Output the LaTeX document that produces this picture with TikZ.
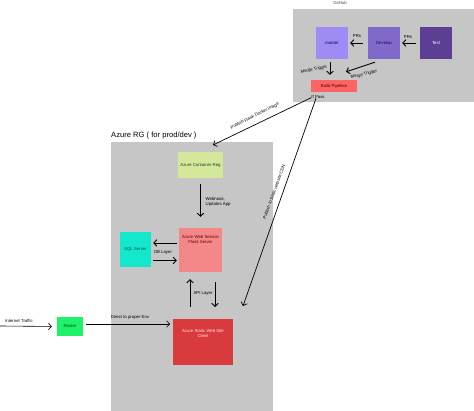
\documentclass[tikz,border=0pt]{standalone}
\usepackage{fontspec}
\setmainfont{Liberation Sans}
\usetikzlibrary{arrows.meta}
\definecolor{grp}{HTML}{C6C6C6}
\definecolor{cmaster}{HTML}{9F8BF3}
\definecolor{cdev}{HTML}{8169CC}
\definecolor{ctest}{HTML}{5A3F92}
\definecolor{cbuild}{HTML}{FF6464}
\definecolor{ccr}{HTML}{D3E899}
\definecolor{cweb}{HTML}{F48888}
\definecolor{csql}{HTML}{14E8CC}
\definecolor{cstat}{HTML}{D93A3E}
\definecolor{crouter}{HTML}{1EF26B}
\begin{document}
\begin{tikzpicture}[x=1pt,y=-1pt,
  box/.style={rectangle,inner sep=0pt,font=\fontsize{4.3}{5.2}\selectfont,align=center},
  lbl/.style={font=\fontsize{4.3}{5.2}\selectfont,inner sep=0.5pt,align=center},
  arr/.style={-{Straight Barb[length=3pt,width=6.5pt]},line width=0.9pt},
  tarr/.style={-{Straight Barb[length=3pt,width=6.5pt]},line width=0.6pt},
  ]
\useasboundingbox[fill=white] (0,0) rectangle (474,411);
% groups
\node[box,fill=grp,minimum width=181pt,minimum height=93pt] (gh) at (383.5,55.5) {};
\node[lbl,text=black!70] (ghl) at (340,3) {GitHub};
\node[box,fill=grp,minimum width=162pt,minimum height=269pt] (rg) at (192,276.5) {};
\node[font=\fontsize{7.6}{9}\selectfont,anchor=west,inner sep=0pt] (rgl) at (111,136) {Azure RG ( for prod/dev )};
% top boxes
\node[box,fill=cmaster,minimum width=32pt,minimum height=32pt,text=blue!30!black] (master) at (332,43) {master};
\node[box,fill=cdev,minimum width=32pt,minimum height=32pt,text=black!80!cdev] (dev) at (384,43) {Develop};
\node[box,fill=ctest,minimum width=32pt,minimum height=32pt,text=white] (test) at (436,43) {Test};
\node[box,fill=cbuild,minimum width=46pt,minimum height=12pt,text=red!30!black] (build) at (334,86) {Build Pipeline};
\node[lbl] (ifp) at (318,96.5) {If Pass};
% azure boxes
\node[box,fill=ccr,minimum width=45pt,minimum height=26pt,text=black!80] (cr) at (200.5,165) {Azure Container Reg};
\node[box,fill=cweb,minimum width=43pt,minimum height=44pt,
  label={[lbl,anchor=north,yshift=-7pt,text=red!40!black]north:Azure Web Service\\Flask Server}] (web) at (200.5,250) {};
\node[box,fill=csql,minimum width=31pt,minimum height=35pt,text=teal!60!black] (sql) at (135.5,249.5) {SQL Server};
\node[box,fill=cstat,minimum width=60pt,minimum height=46pt,
  label={[lbl,anchor=north,yshift=-10pt,text=white!90!red]north:Azure Static Web Site\\Client}] (stat) at (203,342) {};
\node[box,fill=crouter,minimum width=26pt,minimum height=19pt,text=green!30!black] (router) at (70,326.5) {Router};
% PR arrows
\draw[arr,shorten <=5pt,shorten >=2pt] (dev.west) -- (master.east);
\node[lbl] (prs1) at (357,36) {PRs};
\draw[arr,shorten <=4pt,shorten >=2pt] (test.west) -- (dev.east);
\node[lbl] (prs2) at (408,37) {PRs};
% merge triggers
\draw[arr,shorten <=3pt,shorten >=5pt] ([xshift=-2pt]master.south) -- ([xshift=-4pt]build.north);
\node[lbl,rotate=12] (mt1) at (314,69.5) {Merge Trigger};
\draw[arr] ([xshift=-9pt,yshift=-3pt]dev.south) -- ([xshift=12pt,yshift=8pt]build.north);
\node[lbl,rotate=14] (mt2) at (364,74.5) {Merge Trigger};
% publish arrows
\coordinate (e1) at (213,145);
\coordinate (e2) at (243,306);
\draw[arr,line width=0.7pt] ([xshift=-7pt,yshift=1pt]ifp.south) -- (e1);
\node[lbl,rotate=27] (pf) at (255,116) {Publish Flask Docker Image};
\draw[arr,line width=0.7pt] ([xshift=-2pt,yshift=0.5pt]ifp.south) -- (e2);
\node[lbl,rotate=70] (pc) at (274,192) {Publish to Static website CDN};
% webhook
\draw[arr,shorten <=6pt,shorten >=11pt] (cr.south) -- (web.north);
\node[lbl,anchor=west,align=left] (wh) at (205,201.5) {Webhook,\\Updates App};
% DB layer
\draw[arr,shorten <=2pt,shorten >=2pt] ([yshift=7pt]web.west) -- ([yshift=6.5pt]sql.east);
\draw[arr,shorten <=2pt,shorten >=2pt] ([yshift=-11pt]sql.east) -- ([yshift=-10.5pt]web.west);
\node[lbl] (dbl) at (163,252) {DB Layer};
% API layer
\coordinate (a1) at (190,307);
\coordinate (a2) at (215,307);
\draw[arr,shorten >=7pt] (a1) -- (a1 |- web.south);
\draw[arr,shorten <=10pt] (a2 |- web.south) -- (a2);
\node[lbl] (api) at (203,293) {API Layer};
% internet traffic
\coordinate (it) at (0,326);
\draw[tarr,shorten >=5pt] (it) -- (router.west);
\node[lbl] (itl) at (19,321) {Internet Traffic};
\coordinate (d1) at (86,324);
\coordinate (d2) at (170,324);
\draw[tarr] (d1) -- (d2);
\node[lbl] (dl) at (130,317.5) {Direct to proper Env};
\end{tikzpicture}
\end{document}
